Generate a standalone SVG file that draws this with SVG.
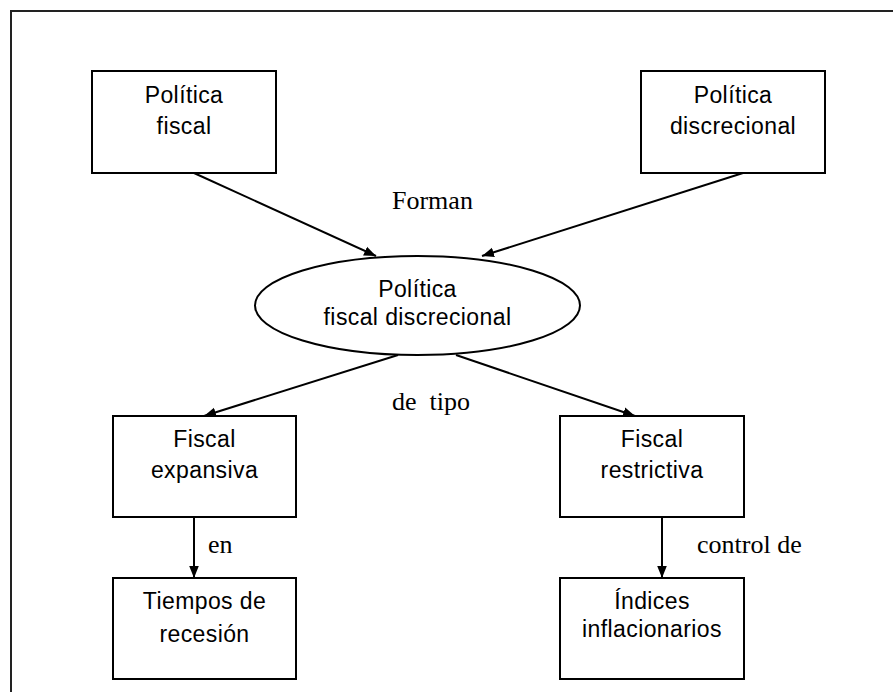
<svg xmlns="http://www.w3.org/2000/svg" width="893" height="692" viewBox="0 0 893 692">
<defs>
<style>
.box{fill:#fff;stroke:#000;stroke-width:2}
.t{font-family:"Liberation Sans",Arial,sans-serif;font-size:23px;text-anchor:middle;fill:#000;letter-spacing:0.4px}
.l{font-family:"Liberation Serif","Times New Roman",serif;font-size:26px;fill:#000}
.c{stroke:#000;stroke-width:2;fill:none;marker-end:url(#ah)}
</style>
<marker id="ah" viewBox="0 0 10 10" refX="10" refY="5" markerWidth="6" markerHeight="6" markerUnits="strokeWidth" orient="auto">
<path d="M0,1 L10,5 L0,9 z" fill="#000"/>
</marker>
</defs>
<rect x="0" y="0" width="893" height="692" fill="#fff"/>
<rect id="frame" x="11" y="11" width="900" height="700" fill="none" stroke="#222" stroke-width="2"/>
<g id="connectors">
<line class="c" x1="194" y1="173" x2="376" y2="256"/>
<line class="c" x1="743" y1="173" x2="482" y2="256"/>
<line class="c" x1="398" y1="355" x2="204" y2="416"/>
<line class="c" x1="456" y1="355" x2="635" y2="416"/>
<line class="c" x1="194" y1="517" x2="194" y2="578"/>
<line class="c" x1="662" y1="517" x2="662" y2="578"/>
<text class="l" x="392" y="209">Forman</text>
<text class="l" x="392" y="410" xml:space="preserve">de  tipo</text>
<text class="l" x="208" y="553">en</text>
<text class="l" x="697" y="553">control de</text>
</g>
<g id="n1">
<rect class="box" x="92" y="71" width="184" height="102"/>
<text class="t" x="184" y="103">Política</text>
<text class="t" x="184" y="134">fiscal</text>
</g>
<g id="n2">
<rect class="box" x="641" y="71" width="184" height="102"/>
<text class="t" x="733" y="103">Política</text>
<text class="t" x="733" y="134">discrecional</text>
</g>
<g id="n3">
<ellipse class="box" cx="417.5" cy="305.5" rx="162.5" ry="49.5"/>
<text class="t" x="417.5" y="297">Política</text>
<text class="t" x="417.5" y="325">fiscal discrecional</text>
</g>
<g id="n4">
<rect class="box" x="113" y="416" width="183" height="101"/>
<text class="t" x="204.5" y="447">Fiscal</text>
<text class="t" x="204.5" y="478">expansiva</text>
</g>
<g id="n5">
<rect class="box" x="560" y="416" width="184" height="101"/>
<text class="t" x="652" y="447">Fiscal</text>
<text class="t" x="652" y="478">restrictiva</text>
</g>
<g id="n6">
<rect class="box" x="113" y="578" width="183" height="101"/>
<text class="t" x="204.5" y="609">Tiempos de</text>
<text class="t" x="204.5" y="642">recesión</text>
</g>
<g id="n7">
<rect class="box" x="560" y="578" width="184" height="101"/>
<text class="t" x="652" y="609">Índices</text>
<text class="t" x="652" y="637">inflacionarios</text>
</g>
</svg>
